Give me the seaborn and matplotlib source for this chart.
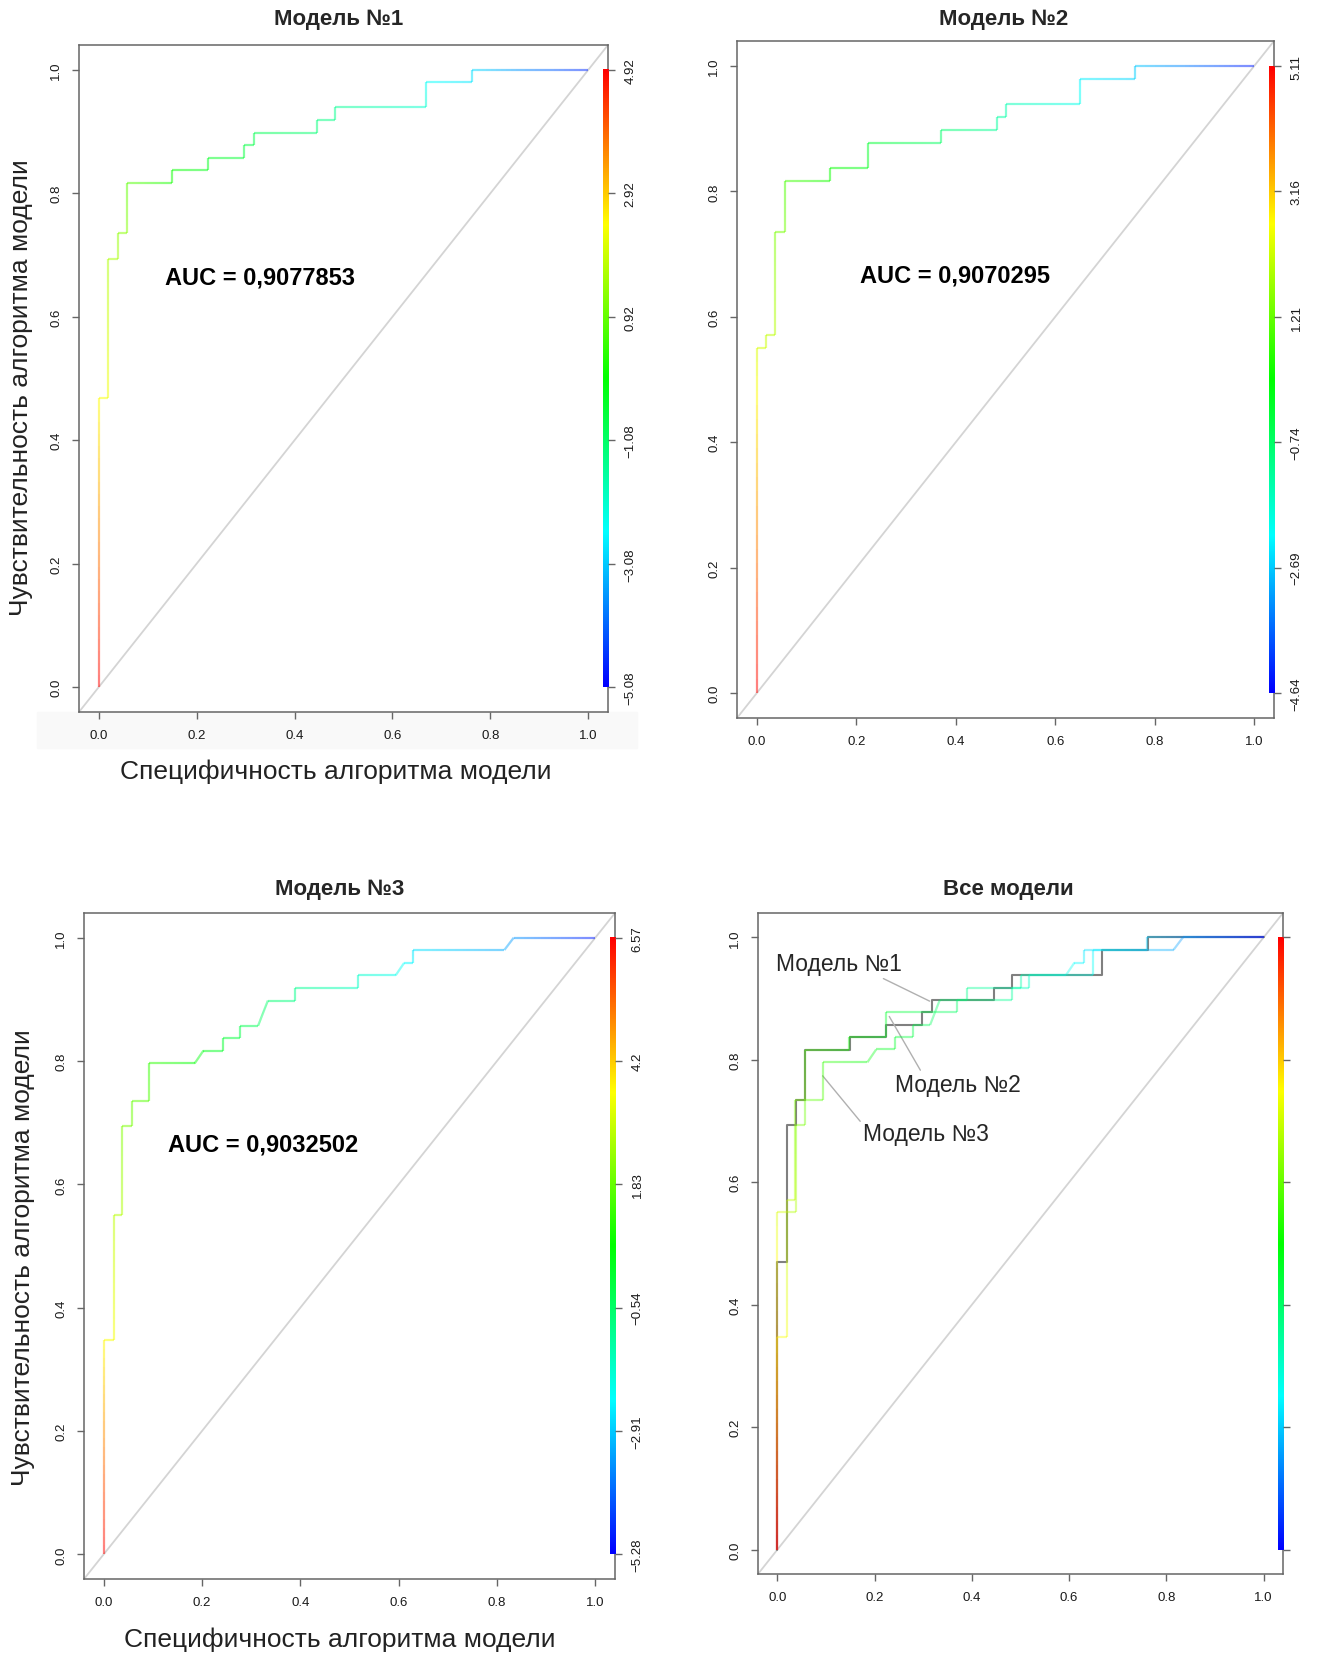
import numpy as np
import matplotlib as mpl
import matplotlib.pyplot as plt
import seaborn as sns
from matplotlib.collections import LineCollection
from matplotlib.patches import Rectangle

# ROC corners (FPR, TPR) and cutoff at each corner
m1_fpr = [0, 0, 0.020, 0.020, 0.039, 0.039, 0.057, 0.057, 0.150, 0.150, 0.224, 0.224, 0.297,
          0.297, 0.317, 0.317, 0.446, 0.446, 0.483, 0.483, 0.668, 0.668, 0.762, 0.762, 1.0]
m1_tpr = [0, 0.469, 0.469, 0.694, 0.694, 0.735, 0.735, 0.816, 0.816, 0.837, 0.837, 0.857, 0.857,
          0.878, 0.878, 0.898, 0.898, 0.918, 0.918, 0.939, 0.939, 0.980, 0.980, 1.0, 1.0]
m1_cut = [4.92, 2.4, 2.3, 1.6, 1.55, 1.3, 1.25, 0.8, 0.1, 0.0, -0.3, -0.4, -0.6,
          -0.7, -0.75, -0.85, -1.2, -1.3, -1.4, -1.5, -2.1, -2.5, -2.8, -2.9, -4.7]

m2_fpr = [0, 0, 0.019, 0.019, 0.037, 0.037, 0.056, 0.056, 0.148, 0.148, 0.223, 0.223, 0.370,
          0.370, 0.482, 0.482, 0.501, 0.501, 0.649, 0.649, 0.760, 0.760, 1.0]
m2_tpr = [0, 0.551, 0.551, 0.571, 0.571, 0.735, 0.735, 0.816, 0.816, 0.837, 0.837, 0.878, 0.878,
          0.898, 0.898, 0.918, 0.918, 0.939, 0.939, 0.980, 0.980, 1.0, 1.0]
m2_cut = [5.11, 2.3, 2.2, 2.1, 2.0, 1.4, 1.35, 0.9, 0.4, 0.3, 0.0, -0.2, -0.7,
          -0.8, -1.2, -1.3, -1.35, -1.45, -2.0, -2.3, -2.6, -2.7, -4.4]

m3_fpr = [0, 0, 0.020, 0.020, 0.038, 0.038, 0.057, 0.057, 0.093, 0.093, 0.185, 0.203, 0.242,
          0.242, 0.278, 0.278, 0.314, 0.334, 0.390, 0.390, 0.518, 0.518, 0.594, 0.611, 0.630,
          0.630, 0.815, 0.834, 1.0]
m3_tpr = [0, 0.347, 0.347, 0.551, 0.551, 0.694, 0.694, 0.735, 0.735, 0.796, 0.796, 0.817, 0.817,
          0.837, 0.837, 0.857, 0.857, 0.898, 0.898, 0.918, 0.918, 0.939, 0.939, 0.959, 0.959,
          0.980, 0.980, 1.0, 1.0]
m3_cut = [6.57, 3.6, 3.5, 2.8, 2.7, 2.1, 2.0, 1.8, 1.6, 1.2, 0.6, 0.4, 0.2,
          0.1, -0.1, -0.2, -0.4, -0.6, -0.9, -1.0, -1.6, -1.7, -2.1, -2.3, -2.4,
          -2.6, -3.3, -3.5, -5.0]

cut_ranges = {"m1": (-5.08, 4.92), "m2": (-4.64, 5.11), "m3": (-5.28, 6.57)}
cbar_labels = {
    "m1": ["\u22125.08", "\u22123.08", "\u22121.08", "0.92", "2.92", "4.92"],
    "m2": ["\u22124.64", "\u22122.69", "\u22120.74", "1.21", "3.16", "5.11"],
    "m3": ["\u22125.28", "\u22122.91", "\u22120.54", "1.83", "4.2", "6.57"],
}
auc_text = {"m1": "AUC = 0,9077853", "m2": "AUC = 0,9070295", "m3": "AUC = 0,9032502"}
ticks = [0, 0.2, 0.4, 0.6, 0.8, 1.0]
tick_labels = ["0.0", "0.2", "0.4", "0.6", "0.8", "1.0"]

sns.set_theme(style="white")
plt.rcParams["font.family"] = ["Liberation Sans", "DejaVu Sans"]

# R rainbow(start=0, end=4/6): blue for low cutoffs, red for high
hues = np.linspace(2 / 3, 0, 256)
rainbow = mpl.colors.ListedColormap(
    mpl.colors.hsv_to_rgb(np.column_stack([hues, np.ones(256), np.ones(256)])))

W, H = 1317, 1656
fig = plt.figure(figsize=(W / 100, H / 100), dpi=100)
# faint backdrop under the first panel's x axis
fig.patches.append(Rectangle((37 / W, 1 - 749 / H), 600 / W, 36 / H,
                             transform=fig.transFigure, color="#f9f9f9", zorder=-5))


def place(l, t, r, b):
    return fig.add_axes([l / W, 1 - b / H, (r - l) / W, (b - t) / H])


def gradient_line(ax, x, y, c, key, alpha=0.5, lw=1.6, n=24):
    segs, vals = [], []
    for i in range(len(x) - 1):
        t = np.linspace(0, 1, n + 1)
        xs = x[i] + (x[i + 1] - x[i]) * t
        ys = y[i] + (y[i + 1] - y[i]) * t
        cs = c[i] + (c[i + 1] - c[i]) * t
        for j in range(n):
            segs.append([(xs[j], ys[j]), (xs[j + 1], ys[j + 1])])
            vals.append((cs[j] + cs[j + 1]) / 2)
    lo, hi = cut_ranges[key]
    lc = LineCollection(segs, cmap=rainbow, norm=mpl.colors.Normalize(lo, hi),
                        alpha=alpha, linewidths=lw, capstyle="butt", zorder=4)
    lc.set_array(np.array(vals))
    ax.add_collection(lc)


def setup(ax, labels):
    ax.set_facecolor("white")
    ax.imshow(np.linspace(0, 1, 256)[:, None], extent=(1.029, 1.04, 0, 1),
              origin="lower", cmap=rainbow, aspect="auto", zorder=3)
    ax.axline((0, 0), (1, 1), color="#d4d4d4", lw=1.3, zorder=2)
    ax.set_xlim(-0.04, 1.04)
    ax.set_ylim(-0.04, 1.04)
    ax.set_xticks(ticks)
    ax.set_xticklabels(tick_labels)
    ax.set_yticks(ticks)
    ax.set_yticklabels(tick_labels, rotation=90, va="center")
    ax.tick_params(direction="out", length=5, width=1, color="#666666",
                   labelsize=9.5, pad=7, labelcolor="#1a1a1a",
                   bottom=True, left=True)
    for s in ax.spines.values():
        s.set_color("#666666")
        s.set_linewidth(1.1)
    ax2 = ax.twinx()
    ax2.set_ylim(-0.04, 1.04)
    ax2.set_yticks(ticks)
    ax2.set_yticklabels(labels if labels else [""] * 6, rotation=90, va="center")
    ax2.tick_params(direction="out", length=5, width=1, color="#666666",
                    labelsize=9.5, pad=7, labelcolor="#1a1a1a", right=True)
    for s in ax2.spines.values():
        s.set_visible(False)
    ax.grid(False)
    ax2.grid(False)


ax1 = place(79, 46, 608, 713)
ax2 = place(737, 42, 1274, 719)
ax3 = place(84, 914, 615, 1580)
ax4 = place(758, 914, 1283, 1575)

for ax, key, fpr, tpr, cut, pos in [
    (ax1, "m1", m1_fpr, m1_tpr, m1_cut, (0.33, 0.665)),
    (ax2, "m2", m2_fpr, m2_tpr, m2_cut, (0.399, 0.666)),
    (ax3, "m3", m3_fpr, m3_tpr, m3_cut, (0.324, 0.665)),
]:
    setup(ax, cbar_labels[key])
    gradient_line(ax, fpr, tpr, cut, key)
    ax.text(pos[0], pos[1], auc_text[key], fontsize=17, fontweight="bold",
            ha="center", va="center", color="black", zorder=5)

setup(ax4, None)
sns.lineplot(x=m1_fpr, y=m1_tpr, sort=False, estimator=None, color="#808080",
             lw=1.5, ax=ax4, zorder=3)
gradient_line(ax4, m3_fpr, m3_tpr, m3_cut, "m3", alpha=0.4)
gradient_line(ax4, m2_fpr, m2_tpr, m2_cut, "m2", alpha=0.4)

line_style = dict(arrowstyle="-", color="#b0b0b0", lw=1, shrinkA=0, shrinkB=0)
ax4.annotate("Модель №1", xy=(0.313, 0.896), xytext=(-0.003, 0.957), fontsize=16.5,
             ha="left", va="center", arrowprops=dict(relpos=(0.8, 0.0), **line_style))
ax4.annotate("Модель №2", xy=(0.230, 0.871), xytext=(0.241, 0.759), fontsize=16.5,
             ha="left", va="center", arrowprops=dict(relpos=(0.22, 1.0), **line_style))
ax4.annotate("Модель №3", xy=(0.093, 0.774), xytext=(0.177, 0.680), fontsize=16.5,
             ha="left", va="center", arrowprops=dict(relpos=(0.0, 0.85), **line_style))

for x, y, s in [(339, 19.5, "Модель №1"), (1004, 19, "Модель №2"),
                (339.5, 890, "Модель №3"), (1008.6, 890, "Все модели")]:
    fig.text(x / W, 1 - y / H, s, fontsize=16, fontweight="bold", ha="center", va="center")

xlab = "Специфичность алгоритма модели"
ylab = "Чувствительность алгоритма модели"
fig.text(336 / W, 1 - 772 / H, xlab, fontsize=19, ha="center", va="center", color="#222222")
fig.text(339.5 / W, 1 - 1640 / H, xlab, fontsize=19, ha="center", va="center", color="#222222")
fig.text(21 / W, 1 - 388 / H, ylab, fontsize=19, rotation=90, ha="center", va="center", color="#222222")
fig.text(23 / W, 1 - 1258 / H, ylab, fontsize=19, rotation=90, ha="center", va="center", color="#222222")

fig.savefig("out.png", dpi=100, facecolor="white")
